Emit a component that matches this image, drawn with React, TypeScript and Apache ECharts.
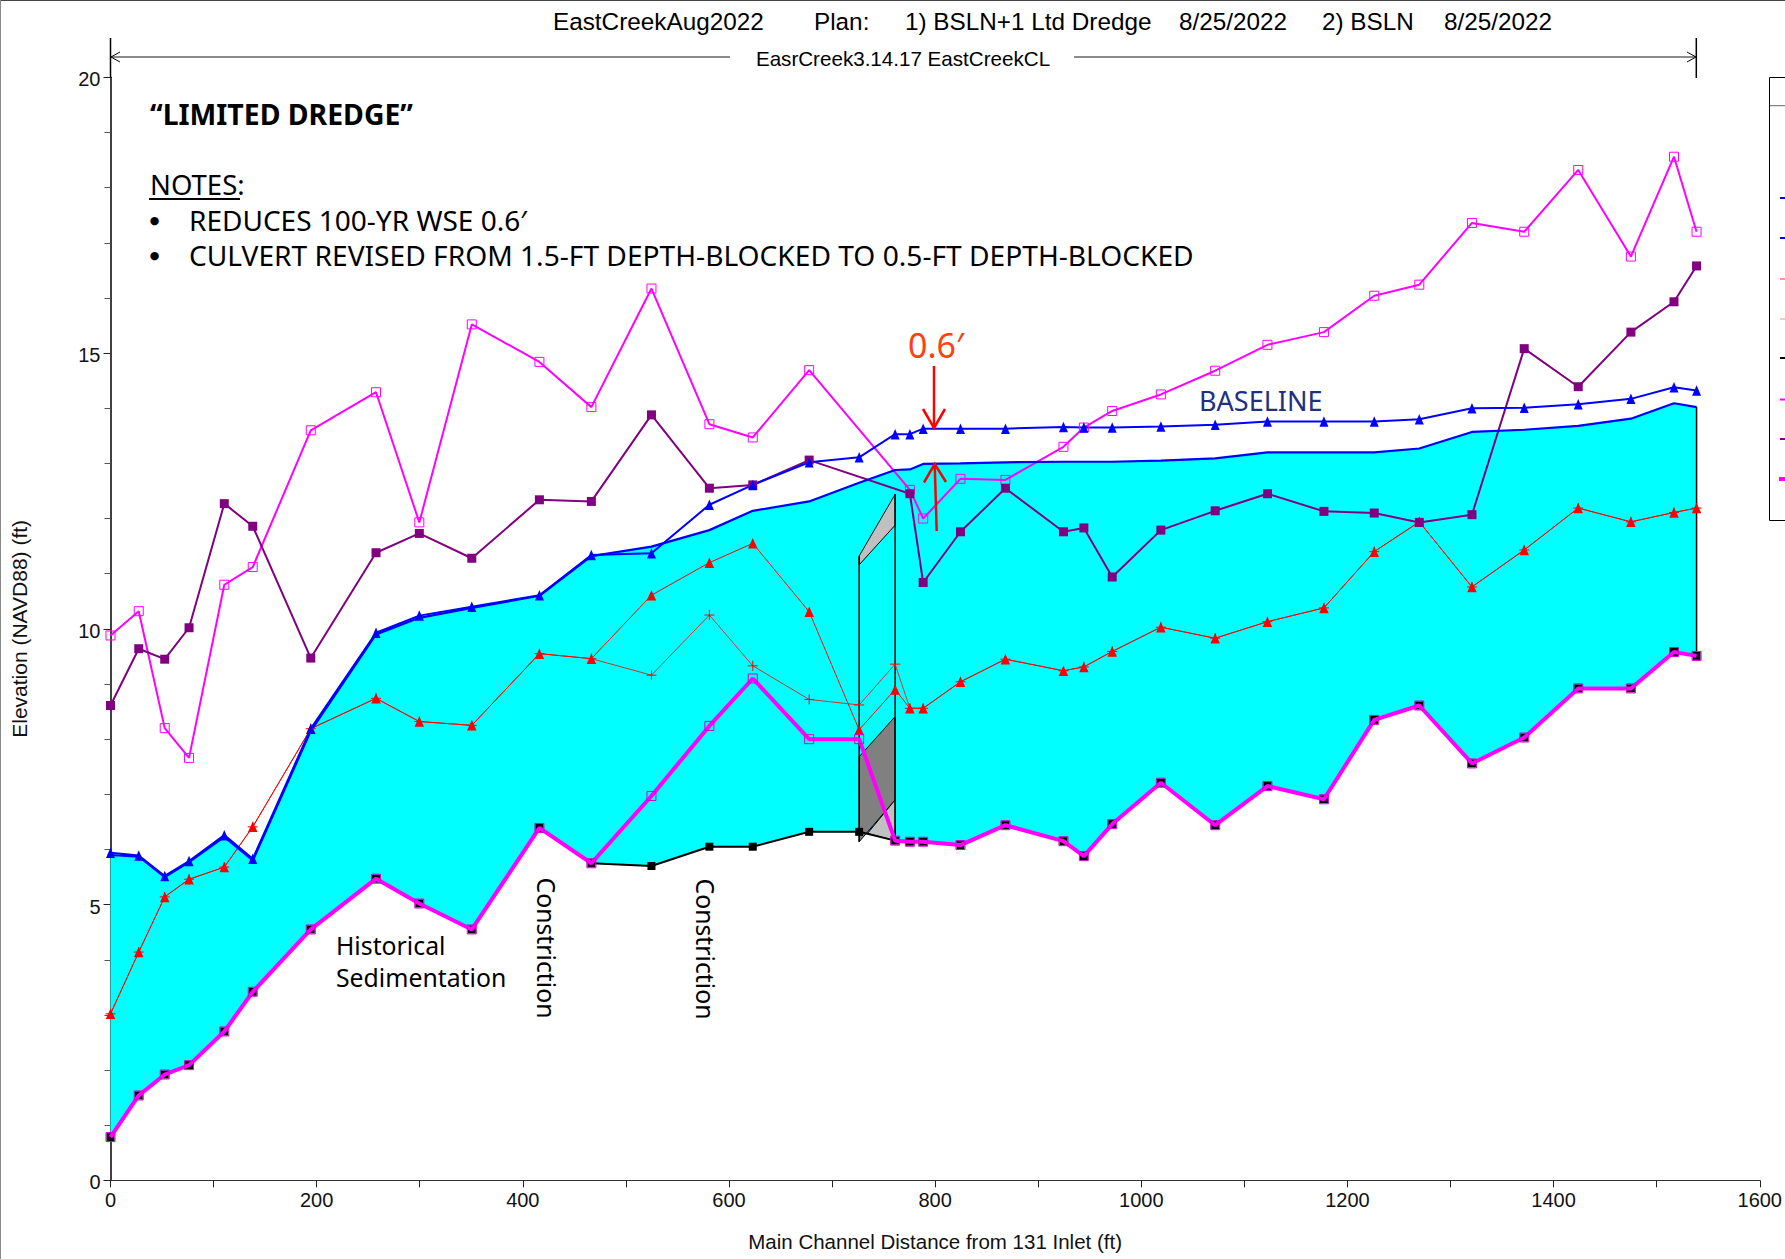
import React, { useEffect, useRef } from "react";
import * as echarts from "echarts";

const stations = [0, 27.4, 52.6, 76.2, 110.4, 138, 194.3, 257.6, 299.6, 350.5, 416.1, 466.5, 524.8, 581, 623.1, 677.8, 726.3, 761.2, 775.5, 788.4, 824.6, 868.2, 924.5, 944.3, 971.8, 1019, 1071.7, 1122.4, 1177.2, 1226, 1269.7, 1320.8, 1371.5, 1423.9, 1475, 1516.8, 1538.7];
const wsBaseline = [5.94, 5.89, 5.52, 5.79, 6.26, 5.83, 8.19, 9.93, 10.24, 10.4, 10.61, 11.34, 11.37, 12.25, 12.61, 13.02, 13.11, 13.53, 13.53, 13.63, 13.63, 13.63, 13.66, 13.65, 13.65, 13.67, 13.7, 13.76, 13.76, 13.76, 13.8, 14.0, 14.01, 14.07, 14.17, 14.38, 14.32];
const wsDredge = [5.9, 5.87, 5.5, 5.77, 6.23, 5.8, 8.15, 9.9, 10.2, 10.38, 10.6, 11.32, 11.49, 11.79, 12.14, 12.31, 12.65, 12.88, 12.89, 12.99, 13.0, 13.02, 13.03, 13.03, 13.03, 13.05, 13.09, 13.2, 13.2, 13.2, 13.27, 13.57, 13.61, 13.68, 13.81, 14.09, 14.02];
const critDredge = [3.02, 4.14, 5.14, 5.46, 5.68, 6.41, 8.19, 8.74, 8.32, 8.25, 9.55, 9.46, 10.61, 11.2, 11.55, 10.31, 8.17, 8.9, 8.56, 8.56, 9.04, 9.45, 9.24, 9.31, 9.59, 10.03, 9.83, 10.13, 10.38, 11.4, 11.94, 10.76, 11.43, 12.19, 11.94, 12.11, 12.19];
const critBaseline = [3.02, 4.14, 5.14, 5.46, 5.68, 6.41, 8.19, 8.74, 8.32, 8.25, 9.55, 9.46, 9.16, 10.25, 9.33, 8.72, 8.62, 9.36, 8.56, 8.56, 9.04, 9.45, 9.24, 9.31, 9.59, 10.03, 9.83, 10.13, 10.38, 11.4, 11.94, 10.76, 11.43, 12.19, 11.94, 12.11, 12.19];
const groundDredge = [0.785, 1.54, 1.92, 2.09, 2.7, 3.42, 4.55, 5.47, 5.02, 4.55, 6.39, 5.75, 6.97, 8.24, 9.1, 8.0, 8.0, 6.16, 6.14, 6.14, 6.08, 6.44, 6.15, 5.88, 6.46, 7.21, 6.44, 7.15, 6.91, 8.35, 8.61, 7.56, 8.03, 8.92, 8.92, 9.58, 9.51];
const groundBaseline = [0.785, 1.54, 1.92, 2.09, 2.7, 3.42, 4.55, 5.47, 5.02, 4.55, 6.39, 5.75, 5.7, 6.05, 6.05, 6.32, 6.32, 6.16, 6.14, 6.14, 6.08, 6.44, 6.15, 5.88, 6.46, 7.21, 6.44, 7.15, 6.91, 8.35, 8.61, 7.56, 8.03, 8.92, 8.92, 9.58, 9.51];
const bankMagenta = [9.88, 10.32, 8.2, 7.66, 10.8, 11.12, 13.6, 14.29, 11.93, 15.52, 14.84, 14.02, 16.17, 13.71, 13.47, 14.69, null, null, 12.52, 12.0, 12.72, 12.7, 13.3, 13.65, 13.95, 14.25, 14.68, 15.15, 15.38, 16.04, 16.24, 17.36, 17.2, 18.32, 16.75, 18.56, 17.2];
const bankPurple = [8.61, 9.64, 9.45, 10.02, 12.27, 11.86, 9.47, 11.38, 11.73, 11.28, 12.34, 12.31, 13.88, 12.55, 12.61, 13.06, null, null, 12.45, 10.84, 11.76, 12.55, 11.76, 11.83, 10.94, 11.79, 12.14, 12.45, 12.13, 12.1, 11.93, 12.07, 15.08, 14.39, 15.38, 15.93, 16.58];

const culvertTopLight = [[726.3, 11.32], [761.2, 12.44], [761.2, 11.88], [726.3, 11.16]];
const culvertLowDark = [[726.3, 7.68], [761.2, 8.41], [761.2, 6.9], [726.3, 6.14]];
const culvertLowLight = [[734.4, 6.29], [761.2, 6.9], [761.2, 6.16]];

const pairs = (ys: (number | null)[]) => stations.map((x, i) => [x, ys[i]]);

const polygonSeries = (pts: number[][], fill: string, stroke?: string, lineWidth = 1, z = 2) => ({
  type: "custom",
  coordinateSystem: "cartesian2d",
  silent: true,
  z,
  clip: false,
  data: [[pts[0][0], pts[0][1]]],
  renderItem: (_p: any, api: any) => ({
    type: "polygon",
    shape: { points: pts.map((q) => api.coord(q)) },
    style: { fill, stroke: stroke || "none", lineWidth },
  }),
});

const lineSeries = (data: any[], color: string, width: number, symbol: string, size: any, item: any = {}, z = 3) => ({
  type: "line",
  data,
  z,
  connectNulls: true,
  smooth: false,
  clip: false,
  lineStyle: { color, width },
  symbol,
  symbolSize: size,
  showSymbol: symbol !== "none",
  showAllSymbol: true,
  itemStyle: { color, ...item },
  emphasis: { disabled: true },
});

const txt = (text: string, x: number, y: number, font: string, extra: any = {}) => ({
  type: "text",
  x,
  y,
  z: 50,
  silent: true,
  rotation: extra.rotation || 0,
  style: { text, font, fill: extra.fill || "#000", textAlign: extra.align || "left", textVerticalAlign: "middle" },
});
const seg = (x1: number, y1: number, x2: number, y2: number, stroke: string, lineWidth: number) => ({
  type: "line",
  z: 50,
  silent: true,
  shape: { x1, y1, x2, y2 },
  style: { stroke, lineWidth },
});
const poly = (points: number[][], stroke: string, lineWidth: number) => ({
  type: "polyline",
  z: 50,
  silent: true,
  shape: { points },
  style: { stroke, lineWidth, fill: "none" },
});

const ARIAL = '"Liberation Sans", Arial, sans-serif';
const NOTE = '"Noto Sans", sans-serif';
const legendTicks: [number, string, number, number][] = [
  [198, "#0000ff", 2, 1780],
  [238, "#0000ff", 2, 1780],
  [279, "#ff3030", 1, 1780],
  [319, "#ff8a8a", 1, 1780],
  [358, "#000000", 2, 1780],
  [399.5, "#ff00ff", 2, 1780],
  [439, "#800080", 2, 1780],
  [479, "#ff00ff", 4, 1779],
];

export default function App() {
  const ref = useRef<HTMLDivElement>(null);
  useEffect(() => {
    const chart = echarts.init(ref.current!, undefined, { renderer: "svg" });
    const cyanPts = [
      ...stations.map((x, i) => [x, wsDredge[i]]),
      ...stations.map((x, i) => [x, groundBaseline[i]]).reverse(),
    ];
    const axisFont = { fontFamily: ARIAL, fontSize: 20, color: "#111", formatter: (v: number) => String(v) };
    chart.setOption({
      animation: false,
      backgroundColor: "#ffffff",
      grid: { left: 110.5, right: 23, top: 77.3, bottom: 78.6, containLabel: false },
      xAxis: {
        type: "value",
        min: 0,
        max: 1600,
        interval: 200,
        name: "Main Channel Distance from 131 Inlet (ft)",
        nameLocation: "middle",
        nameGap: 51,
        nameTextStyle: { fontFamily: ARIAL, fontSize: 20.5, color: "#111" },
        axisLine: { show: true, lineStyle: { color: "#333", width: 1 } },
        axisTick: { show: true, length: 7, lineStyle: { color: "#222", width: 1 } },
        minorTick: { show: true, splitNumber: 2, length: 7, lineStyle: { color: "#222", width: 1 } },
        axisLabel: { ...axisFont, margin: 10 },
        splitLine: { show: false },
      },
      yAxis: {
        type: "value",
        min: 0,
        max: 20,
        interval: 5,
        name: "Elevation (NAVD88) (ft)",
        nameLocation: "middle",
        nameGap: 81,
        nameTextStyle: { fontFamily: ARIAL, fontSize: 21, color: "#111" },
        axisLine: { show: true, onZero: false, lineStyle: { color: "#000", width: 1.5 } },
        axisTick: { show: true, length: 7, lineStyle: { color: "#222", width: 1 } },
        minorTick: { show: true, splitNumber: 5, length: 6, lineStyle: { color: "#555", width: 1 } },
        axisLabel: { ...axisFont, margin: 10, verticalAlign: "top", lineHeight: 4 },
        splitLine: { show: false },
      },
      series: [
        polygonSeries(cyanPts, "#00ffff", undefined, 0, 1),
        lineSeries([[1538.7, 14.02], [1538.7, 9.51]], "#000", 1.5, "none", 0, {}, 1),
        polygonSeries(culvertTopLight, "#c0c0c0", "#000", 1, 2),
        polygonSeries(culvertLowDark, "#808080", "#000", 1, 2),
        polygonSeries(culvertLowLight, "#c0c0c0", "#000", 1, 2),
        lineSeries([[726.3, 11.32], [726.3, 6.14]], "#000", 1.5, "none", 0, {}, 2),
        lineSeries([[761.2, 12.44], [761.2, 6.16]], "#000", 1.5, "none", 0, {}, 2),
        lineSeries(pairs(groundBaseline), "#000000", 2, "rect", 8, {}, 2),
        lineSeries(pairs(critBaseline), "#d03030", 1, "path://M0 5H10M5 0V10", 10, { color: "#ff0000", borderColor: "#ff0000", borderWidth: 1 }),
        lineSeries(pairs(critDredge), "#ff0000", 1, "triangle", [9.5, 10.5]),
        lineSeries(pairs(bankMagenta), "#ff00ff", 2, "rect", 9, { color: "none", borderColor: "#ff00ff", borderWidth: 1 }),
        lineSeries(pairs(bankPurple), "#800080", 2, "rect", 9),
        lineSeries(pairs(wsDredge), "#0000ff", 2.2, "none", 0),
        lineSeries(pairs(wsBaseline), "#0000ff", 2, "triangle", [9, 10.5]),
        lineSeries(pairs(groundDredge), "#ff00ff", 4, "rect", 9, { color: "none", borderColor: "#d000d0", borderWidth: 1 }, 4),
      ],
      graphic: [
        seg(0, 0.5, 1785, 0.5, "#444", 1),
        seg(0.5, 0, 0.5, 1259, "#888", 1),
        txt("EastCreekAug2022", 553, 21, `24.3px ${ARIAL}`),
        txt("Plan:", 814, 21, `24.3px ${ARIAL}`),
        txt("1) BSLN+1 Ltd Dredge", 905, 21, `24.3px ${ARIAL}`),
        txt("8/25/2022", 1179, 21, `24.3px ${ARIAL}`),
        txt("2) BSLN", 1322, 21, `24.3px ${ARIAL}`),
        txt("8/25/2022", 1444, 21, `24.3px ${ARIAL}`),
        seg(110.5, 38, 110.5, 77.3, "#000", 1.5),
        seg(1696.3, 38, 1696.3, 78, "#000", 1.5),
        seg(111, 57, 730, 57, "#666", 1.5),
        seg(1074, 57, 1696, 57, "#666", 1.5),
        poly([[120, 52], [111, 57], [120, 62]], "#000", 1),
        poly([[1687, 52], [1696, 57], [1687, 62]], "#000", 1),
        txt("EasrCreek3.14.17 EastCreekCL", 903, 58.5, `20.6px ${ARIAL}`, { align: "center" }),
        txt("\u201CLIMITED DREDGE\u201D", 150, 114, `bold 28.4px ${NOTE}`),
        txt("NOTES:", 150, 184, `27.5px ${NOTE}`),
        seg(149, 199, 240, 199, "#000", 2),
        txt("\u25CF", 154.5, 220, `11px "DejaVu Sans", sans-serif`, { align: "center" }),
        txt("REDUCES 100-YR WSE 0.6\u2032", 189, 220, `28px ${NOTE}`),
        txt("\u25CF", 154.5, 255, `11px "DejaVu Sans", sans-serif`, { align: "center" }),
        txt("CULVERT REVISED FROM 1.5-FT DEPTH-BLOCKED TO 0.5-FT DEPTH-BLOCKED", 189, 255, `28.15px ${NOTE}`),
        txt("Historical", 336, 945, `24.8px ${NOTE}`),
        txt("Sedimentation", 336, 977, `24.8px ${NOTE}`),
        txt("Constriction", 547, 948, `24.8px ${NOTE}`, { rotation: -Math.PI / 2, align: "center" }),
        txt("Constriction", 706, 949, `24.8px ${NOTE}`, { rotation: -Math.PI / 2, align: "center" }),
        txt("BASELINE", 1199, 400, `27px ${NOTE}`, { fill: "#20307f" }),
        txt("0.6\u2032", 908, 345, `34px ${NOTE}`, { fill: "#ff4010" }),
        seg(934, 366, 934, 428, "#ff0000", 2.5),
        poly([[923, 409], [934, 428], [945, 409]], "#ff0000", 2.5),
        seg(936.7, 531, 934.7, 464, "#ff0000", 2.5),
        poly([[924, 482.5], [934.7, 464], [946, 482]], "#ff0000", 2.5),
        {
          type: "rect",
          z: 50,
          silent: true,
          shape: { x: 1769.5, y: 77.5, width: 30, height: 443 },
          style: { fill: "#fff", stroke: "#000", lineWidth: 1 },
        },
        seg(1770, 105.7, 1785, 105.7, "#666", 1),
        ...legendTicks.map(([y, c, w, x0]) => ({ ...seg(x0, y, 1785, y, c, w), z: 51 })),
      ],
    });
    return () => chart.dispose();
  }, []);
  return <div ref={ref} style={{ position: "absolute", left: 0, top: 0, width: 1785, height: 1259 }} />;
}
